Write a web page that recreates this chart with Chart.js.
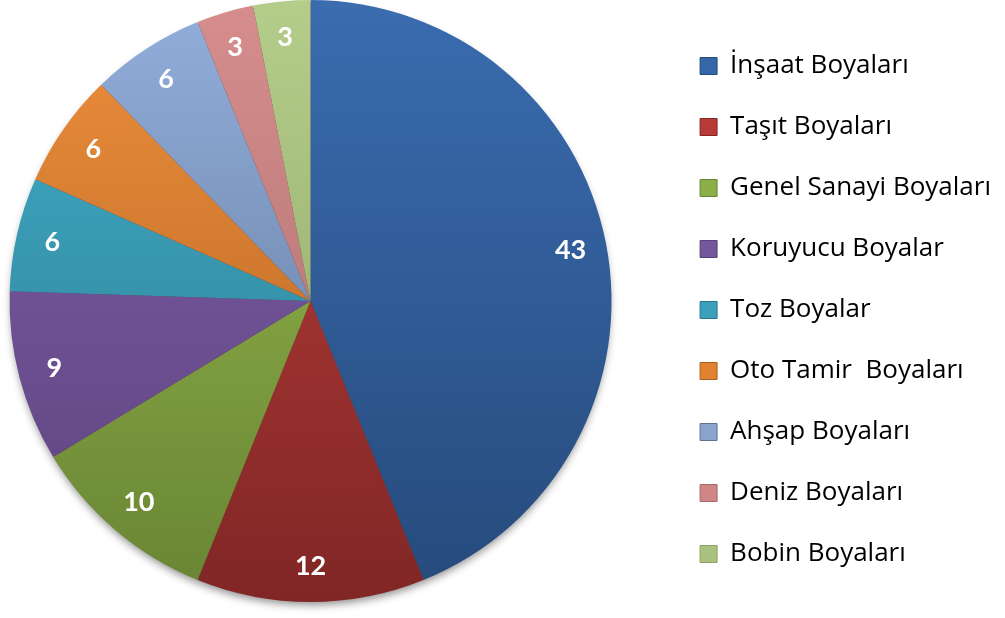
<!DOCTYPE html>
<html>
<head>
<meta charset="utf-8">
<script src="https://cdn.jsdelivr.net/npm/chart.js@4/dist/chart.umd.min.js"></script>
<style>
    html, body { margin: 0; padding: 0; background: #fff; }
    #wrap { width: 1005px; height: 618px; }
</style>
</head>
<body>
<div id="wrap"><canvas id="paintChart" width="1005" height="618"></canvas></div>
<script>
    'use strict';

    // Categories and shares
    const categories = [
        'İnşaat Boyaları',
        'Taşıt Boyaları',
        'Genel Sanayi Boyaları',
        'Koruyucu Boyalar',
        'Toz Boyalar',
        'Oto Tamir  Boyaları',
        'Ahşap Boyaları',
        'Deniz Boyaları',
        'Bobin Boyaları'
    ];
    const shares = [43, 12, 10, 9, 6, 6, 6, 3, 3];

    // Slice gradient: light at the top of the pie, dark at the bottom
    const topColors = ['#3a6cb0', '#bd403c', '#9bbd4e', '#8060aa', '#43b0cb', '#ee903d', '#92aedb', '#d68e8d', '#b5cd8b'];
    const bottomColors = ['#264a7b', '#802625', '#688434', '#5c427d', '#29778b', '#ac5e1e', '#5c7392', '#a66a6a', '#8ca263'];
    const legendColors = ['#3466a8', '#b73c39', '#8cb047', '#74569a', '#3aa0bb', '#e0822f', '#8aa3cf', '#cf8685', '#a9c27f'];

    function sliceFill(context) {
        const chart = context.chart;
        const area = chart.chartArea;
        const i = context.dataIndex;
        if (!area) return legendColors[i];
        const g = chart.ctx.createLinearGradient(0, area.top, 0, area.bottom);
        g.addColorStop(0, topColors[i]);
        g.addColorStop(1, bottomColors[i]);
        return g;
    }

    // Empty box between the pie and the legend
    const legendGap = {
        id: 'legendGap',
        beforeInit(chart) {
            Chart.layouts.addBox(chart, {
                position: 'right',
                weight: 0,
                fullSize: false,
                options: {},
                isHorizontal() { return false; },
                update(maxWidth, maxHeight) {
                    this.width = 44;
                    this.height = maxHeight;
                },
                draw() {}
            });
        }
    };

    // Soft shadow under the pie
    const pieShadow = {
        id: 'pieShadow',
        beforeDatasetsDraw(chart) {
            const arc = chart.getDatasetMeta(0).data[0];
            if (!arc) return;
            const ctx = chart.ctx;
            ctx.save();
            ctx.shadowColor = 'rgba(0, 0, 0, 0.45)';
            ctx.shadowBlur = 8;
            ctx.shadowOffsetY = 5;
            ctx.fillStyle = '#5a3030';
            ctx.beginPath();
            ctx.arc(arc.x, arc.y, arc.outerRadius - 2, 0, Math.PI * 2);
            ctx.fill();
            ctx.restore();
        }
    };

    // Value labels inside each slice
    const sliceLabels = {
        id: 'sliceLabels',
        afterDatasetsDraw(chart) {
            const ctx = chart.ctx;
            const meta = chart.getDatasetMeta(0);
            ctx.save();
            ctx.font = 'bold 27px Lato';
            ctx.fillStyle = '#ffffff';
            ctx.textAlign = 'center';
            ctx.textBaseline = 'middle';
            meta.data.forEach((arc, i) => {
                const mid = (arc.startAngle + arc.endAngle) / 2;
                const r = arc.outerRadius * 0.88;
                ctx.fillText(String(shares[i]), arc.x + Math.cos(mid) * r, arc.y + Math.sin(mid) * r);
            });
            ctx.restore();
        }
    };

    new Chart(document.getElementById('paintChart'), {
        type: 'pie',
        data: {
            labels: categories,
            datasets: [{
                data: shares,
                backgroundColor: sliceFill,
                borderWidth: 0
            }]
        },
        options: {
            responsive: false,
            animation: false,
            layout: {
                padding: { left: 0, right: 4, top: 0, bottom: 16 }
            },
            plugins: {
                tooltip: { enabled: false },
                legend: {
                    position: 'right',
                    align: 'end',
                    maxWidth: 420,
                    labels: {
                        boxWidth: 17,
                        boxHeight: 17,
                        padding: 35,
                        color: '#1a1a1a',
                        font: { family: 'Open Sans', size: 26 },
                        generateLabels(chart) {
                            return categories.map((name, i) => ({
                                text: name,
                                fillStyle: legendColors[i],
                                strokeStyle: bottomColors[i],
                                lineWidth: 1,
                                index: i
                            }));
                        }
                    }
                }
            }
        },
        plugins: [legendGap, pieShadow, sliceLabels]
    });
</script>
</body>
</html>
